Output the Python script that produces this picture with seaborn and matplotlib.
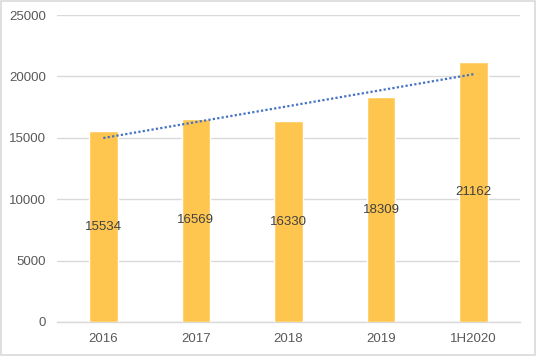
import numpy as np
import pandas as pd
import matplotlib
matplotlib.use("Agg")
import matplotlib.pyplot as plt
import seaborn as sns

categories = ["2016", "2017", "2018", "2019", "1H2020"]
values = [15534, 16569, 16330, 18309, 21162]
y_ticks = [0, 5000, 10000, 15000, 20000, 25000]

BAR_COLOR = "#FFC64F"
TREND_COLOR = "#4472C4"
TEXT_COLOR = "#595959"
GRID_COLOR = "#D9D9D9"

sns.set_style("white")
plt.rcParams["font.family"] = ["Liberation Sans", "DejaVu Sans"]

df = pd.DataFrame({"cat": categories, "val": values})

fig = plt.figure(figsize=(5.36, 3.56), dpi=100)
ax = fig.add_axes([57 / 536, 34 / 356, 463 / 536, 307 / 356])

sns.barplot(data=df, x="cat", y="val", color=BAR_COLOR, saturation=1,
            width=0.31, ax=ax, zorder=3)

# linear trendline like the spreadsheet one
xs = np.arange(len(values))
k, b = np.polyfit(xs, values, 1)
ax.plot(xs, k * xs + b, color=TREND_COLOR, linestyle=(0, (1, 1)),
        linewidth=1.6, zorder=4)

for i, v in enumerate(values):
    ax.text(i, v / 2, str(v), ha="center", va="center", fontsize=9.5,
            color="#404040", zorder=5)

ax.set_ylim(0, 25000)
ax.set_xlim(-0.5, len(values) - 0.5)
ax.set_yticks(y_ticks)
ax.set_yticklabels([str(t) for t in y_ticks])
ax.yaxis.grid(True, color=GRID_COLOR, linewidth=1, zorder=0)
ax.set_axisbelow(True)
ax.tick_params(axis="both", length=0, labelsize=9.5, labelcolor=TEXT_COLOR)
ax.tick_params(axis="x", pad=8)
ax.tick_params(axis="y", pad=8)
ax.set_xlabel("")
ax.set_ylabel("")
for side in ["left", "right", "top"]:
    ax.spines[side].set_visible(False)
ax.spines["bottom"].set_color(GRID_COLOR)
ax.spines["bottom"].set_linewidth(1)

# light border around the whole chart
fig.patches.append(plt.Rectangle((0.002, 0.003), 0.996, 0.994, transform=fig.transFigure,
                                 fill=False, edgecolor="#D9D9D9", linewidth=1.2))

fig.savefig("out.png", dpi=100)
